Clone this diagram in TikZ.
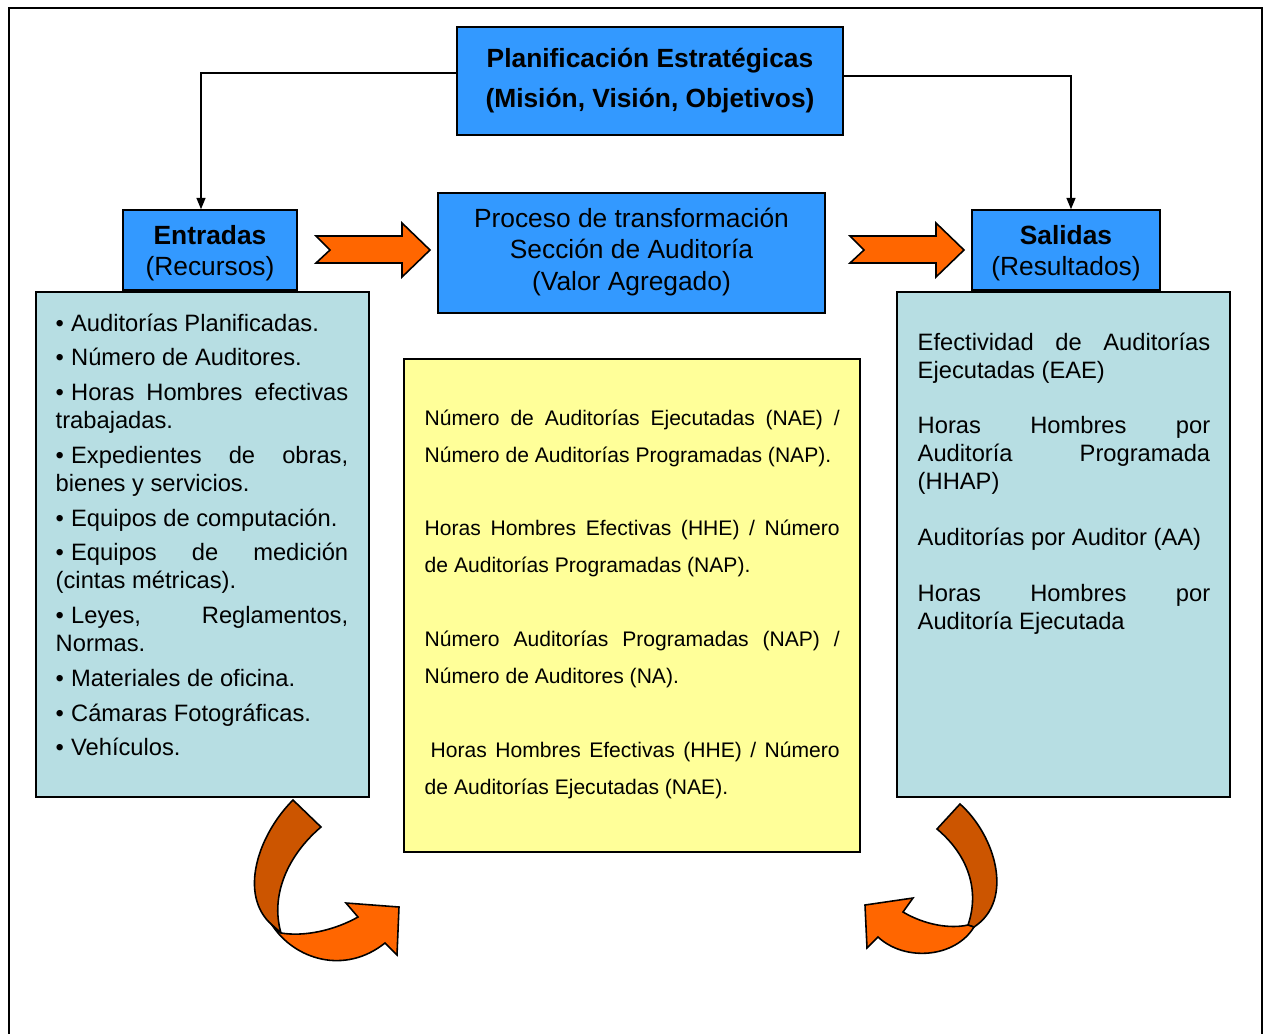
\documentclass[tikz,border=0pt]{standalone}
\usepackage{fontspec}
\setmainfont{Liberation Sans}
\usetikzlibrary{arrows.meta,fit}

\definecolor{azul}{RGB}{51,153,255}
\definecolor{celeste}{RGB}{183,222,227}
\definecolor{amarillo}{RGB}{255,255,153}
\definecolor{naranja}{RGB}{255,102,0}
\definecolor{naranjaosc}{RGB}{204,85,0}
\hyphenpenalty=10000
\exhyphenpenalty=10000
\tolerance=10000
\newcommand{\bul}{\textbullet\hspace{0.3em}}

\begin{document}
\begin{tikzpicture}[x=0.3795pt, y=-0.3795pt,
  box/.style={draw=black, line width=0.6pt, inner sep=0pt},
  bluebox/.style={box, fill=azul},
  bluetext/.style={inner sep=0pt, align=center, font=\fontsize{10pt}{11.8pt}\selectfont},
  listbox/.style={box, fill=celeste},
  notebox/.style={box, fill=amarillo},
  listtext/.style={anchor=north west, inner sep=0pt, align=justify, text width=111pt,
    font=\fontsize{9pt}{10.6pt}\selectfont},
  notetext/.style={anchor=north west, inner sep=0pt, align=justify, text width=157.5pt,
    font=\fontsize{8pt}{14pt}\selectfont},
  flecha/.style={-{Triangle[length=4.3pt,width=3.4pt]}, line width=0.55pt},
  blockarrow/.style={draw=black, line width=0.6pt, fill=naranja, line join=miter},
  backside/.style={draw=black, line width=0.6pt, fill=naranjaosc}]
  \useasboundingbox (0,0) rectangle (1264,1034);

  %% cornice esterna (aperta in basso)
  \draw[line width=0.9pt] (9,1034) -- (9,8) -- (1262,8) -- (1262,1034);

  %% blocchi principali
  \node[bluebox, fit={(457,27) (843,135)}] (plan) {};
  \node[listbox, fit={(36,292) (369,797)}] (recbox) {};
  \node[listbox, fit={(897,292) (1230,797)}] (resbox) {};
  \node[notebox, fit={(404,359) (860,852)}] (indic) {};
  \node[bluebox, fit={(123,210) (297,290)}] (entradas) {};
  \node[bluebox, fit={(438,193) (825,313)}] (proceso) {};
  \node[bluebox, fit={(972,210) (1160,290)}] (salidas) {};

  %% testi dei blocchi blu
  \node[bluetext, font=\bfseries\fontsize{10pt}{15.2pt}\selectfont] (plantxt) at (plan)
    {Planificación Estratégicas\\(Misión, Visión, Objetivos)};
  \node[bluetext] (enttxt) at ([shift={(0,3)}]entradas.center) {\textbf{Entradas}\\(Recursos)};
  \node[bluetext] (proctxt) at ([shift={(0,-1)}]proceso.center)
    {Proceso de transformación\\Sección de Auditoría\\(Valor Agregado)};
  \node[bluetext] (saltxt) at ([shift={(0,3)}]salidas.center) {\textbf{Salidas}\\(Resultados)};

  %% testi dentro i riquadri
  \node[listtext] (recursos) at ([shift={(20,22)}]recbox.north west) {\setlength{\parskip}{2.6pt}%
    \bul Auditorías Planificadas.\par
    \bul Número de Auditores.\par
    \bul Horas Hombres efectivas\linebreak trabajadas.\par
    \bul Expedientes de obras,\linebreak bienes y servicios.\par
    \bul Equipos de computación.\par
    \bul Equipos de medición\linebreak (cintas métricas).\par
    \bul Leyes, Reglamentos,\linebreak Normas.\par
    \bul Materiales de oficina.\par
    \bul Cámaras Fotográficas.\par
    \bul Vehículos.};
  \node[listtext] (resultados) at ([shift={(21,41)}]resbox.north west) {%
    Efectividad de Auditorías\linebreak Ejecutadas (EAE)\par\vspace{10.6pt}
    Horas Hombres por\linebreak Auditoría Programada\linebreak (HHAP)\par\vspace{10.6pt}
    Auditorías por Auditor (AA)\par\vspace{10.6pt}
    Horas Hombres por\linebreak Auditoría Ejecutada};
  \node[notetext] (indicadores) at ([shift={(21,51)}]indic.north west) {%
    Número de Auditorías Ejecutadas (NAE) /\linebreak Número de Auditorías Programadas (NAP).\par\vspace{14pt}
    Horas Hombres Efectivas (HHE) / Número\linebreak de Auditorías Programadas (NAP).\par\vspace{14pt}
    Número Auditorías Programadas (NAP) /\linebreak Número de Auditores (NA).\par\vspace{14pt}
    \hspace*{0.278em}Horas Hombres Efectivas (HHE) / Número\linebreak de Auditorías Ejecutadas (NAE).};

  %% collegamenti dalla pianificazione
  \draw[flecha] ([shift={(0,-8)}]plan.west) -| ([shift={(-9,0)}]entradas.north);
  \draw[flecha] ([shift={(0,-5)}]plan.east) -| ([shift={(5,0)}]salidas.north);

  %% frecce a blocco tra i riquadri
  \foreach \dx in {0,534}
    \draw[blockarrow, shift={(\dx,0)}] (316,236) -- (402,236) -- (402,223) -- (430,250)
      -- (402,277) -- (402,263) -- (316,263) -- (330,250) -- cycle;

  %% frecce curve in basso
  \draw[backside] (321,827) -- (293,800) .. controls (258,835) and (238,895) .. (272,925)
    -- (281,933) .. controls (270,895) and (288,855) .. (321,827) -- cycle;
  \draw[blockarrow] (272,925) .. controls (295,960) and (345,975) .. (385,943) -- (397,955)
    -- (399,907) -- (346,903) -- (358,917) .. controls (335,930) and (305,937) .. (281,933) -- cycle;
  \draw[backside] (937,829) -- (960,804) .. controls (995,835) and (1015,900) .. (974,927)
    -- (968,925) .. controls (980,890) and (968,855) .. (937,829) -- cycle;
  \draw[blockarrow] (974,927) .. controls (955,958) and (905,962) .. (878,937) -- (867,948)
    -- (865,905) -- (913,898) -- (903,912) .. controls (925,925) and (950,929) .. (968,925) -- cycle;
\end{tikzpicture}
\end{document}
